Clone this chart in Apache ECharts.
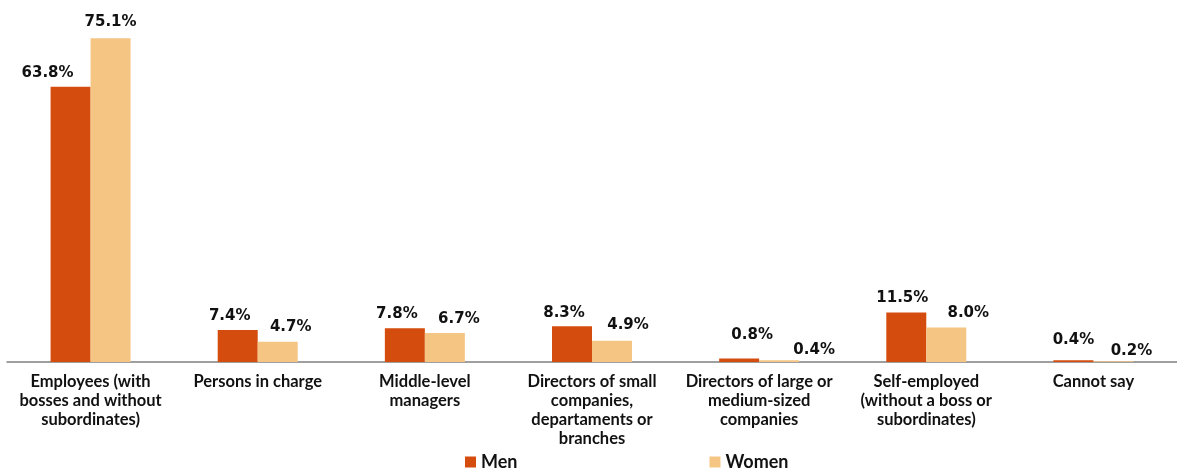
<!DOCTYPE html>
<html>
<head>
<meta charset="utf-8">
<style>html,body{margin:0;padding:0;background:#fff;}#c{width:1177px;height:469px;}</style>
<script src="https://cdn.jsdelivr.net/npm/echarts@6/dist/echarts.min.js"></script>
</head>
<body>
<div id="c"></div>
<script>
var categories = [
  "Employees (with\nbosses and without\nsubordinates)",
  "Persons in charge",
  "Middle-level\nmanagers",
  "Directors of small\ncompanies,\ndepartaments or\nbranches",
  "Directors of large or\nmedium-sized\ncompanies",
  "Self-employed\n(without a boss or\nsubordinates)",
  "Cannot say"
];
var seriesNames = ["Men", "Women"];
var menValues = [63.8, 7.4, 7.8, 8.3, 0.8, 11.5, 0.4];
var womenValues = [75.1, 4.7, 6.7, 4.9, 0.4, 8.0, 0.2];

// label nudges (style only)
var menLabelOffsets = [[-23,1],[-8,1],[-8,0],[-8,1],[13,-9],[-4,0],[0,-6]];
var womenLabelOffsets = [[0,-2],[13,0],[14,1],[16,-1],[35,4],[22,0],[18,4]];

function items(vals, offs) {
  return vals.map(function (v, i) {
    return { value: v, label: { offset: offs[i] } };
  });
}

var valueLabel = {
  show: true,
  position: 'top',
  distance: 7,
  fontFamily: 'DejaVu Sans',
  fontWeight: 'bold',
  fontSize: 15,
  color: '#111',
  formatter: function (p) { return p.value.toFixed(1) + '%'; }
};

var chart = echarts.init(document.getElementById('c'));
chart.setOption({
  animation: false,
  grid: { left: 7, right: -6, top: 17, bottom: 107, containLabel: false },
  legend: {
    data: seriesNames,
    left: 465,
    top: 453,
    padding: 0,
    icon: 'rect',
    itemWidth: 11,
    itemHeight: 11,
    itemGap: 192,
    textStyle: { fontFamily: 'Lato', fontWeight: 'bold', fontSize: 18, color: '#111' }
  },
  xAxis: {
    type: 'category',
    data: categories,
    axisLine: { lineStyle: { color: '#808080', width: 1.5 } },
    axisTick: { show: false },
    axisLabel: {
      interval: 0,
      margin: 10,
      fontFamily: 'Lato',
      fontWeight: 'bold',
      fontSize: 16.5,
      lineHeight: 19,
      color: '#111'
    }
  },
  yAxis: {
    type: 'value',
    min: 0,
    max: 80,
    show: false,
    splitLine: { show: false }
  },
  series: [
    {
      name: seriesNames[0],
      type: 'bar',
      data: items(menValues, menLabelOffsets),
      barWidth: 40,
      barGap: '0%',
      itemStyle: { color: '#D54D0E' },
      label: valueLabel
    },
    {
      name: seriesNames[1],
      type: 'bar',
      data: items(womenValues, womenLabelOffsets),
      barWidth: 40,
      barGap: '0%',
      itemStyle: { color: '#F5C584' },
      label: valueLabel
    }
  ]
});
</script>
</body>
</html>
